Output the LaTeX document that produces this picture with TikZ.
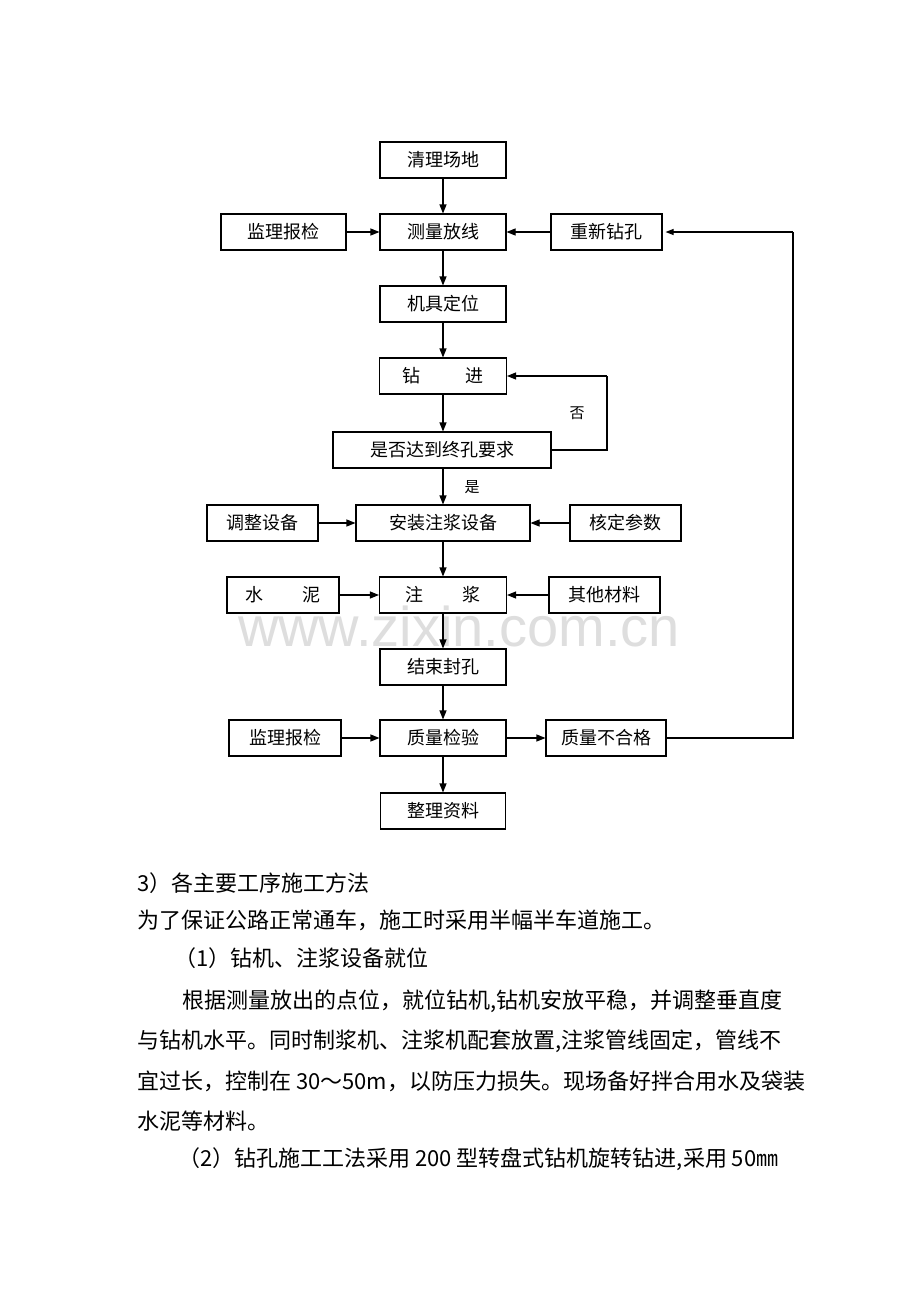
\documentclass[tikz,border=0pt]{standalone}
\usepackage{fontspec}
\setmainfont{Noto Sans CJK SC}
\newfontfamily\wmfont{Liberation Sans}
\usetikzlibrary{arrows.meta}
\begin{document}
\begin{tikzpicture}[x=1pt,y=-1pt,
  stepbox/.style={draw, line width=1.1pt, minimum height=36pt, inner sep=0pt, font=\fontsize{18}{18}\selectfont},
  conn/.style={line width=1.1pt, -{Triangle[length=9pt,width=7pt]}},
  lbl/.style={font=\fontsize{15}{15}\selectfont, inner sep=0pt},
  body/.style={anchor=base west, inner sep=0pt, font=\fontsize{22}{22}\selectfont}]
\useasboundingbox[fill=white] (0,0) rectangle (920,1302);
% watermark
\node[font=\wmfont\fontsize{56}{56}\selectfont, text=black!13, inner sep=0pt, anchor=base] (wm) at (459,646) {www.zixin.com.cn};
% nodes
\node[stepbox, minimum width=126pt] (a) at (443,160) {清理场地};
\node[stepbox, minimum width=126pt] (b) at (443,232) {测量放线};
\node[stepbox, minimum width=125pt] (c) at (283.5,232) {监理报检};
\node[stepbox, minimum width=111pt] (d) at (606.5,232) {重新钻孔};
\node[stepbox, minimum width=126pt] (e) at (443,304) {机具定位};
\node[stepbox, minimum width=127pt] (f) at (443,376) {钻\hspace{2.5em}进};
\node[stepbox, minimum width=218pt] (g) at (442,450) {是否达到终孔要求};
\node[stepbox, minimum width=174pt] (h) at (443,523) {安装注浆设备};
\node[stepbox, minimum width=111pt] (i) at (262.5,523) {调整设备};
\node[stepbox, minimum width=111pt] (j) at (625.5,523) {核定参数};
\node[stepbox, minimum width=127pt] (k) at (443,595) {注\hspace{2.2em}浆};
\node[stepbox, minimum width=112pt] (l) at (283,595) {水\hspace{2.2em}泥};
\node[stepbox, minimum width=111pt] (m) at (604.5,595) {其他材料};
\node[stepbox, minimum width=126pt] (n) at (443,667) {结束封孔};
\node[stepbox, minimum width=112pt] (o) at (285,738) {监理报检};
\node[stepbox, minimum width=126pt] (p) at (443,738) {质量检验};
\node[stepbox, minimum width=120pt] (q) at (606,738) {质量不合格};
\node[stepbox, minimum width=125pt] (r) at (443,811) {整理资料};
\node[lbl] (yes) at (472,487) {是};
\node[lbl] (no) at (577,413) {否};
\coordinate (g1) at (607,450);
\coordinate (g2) at (607,376);
\coordinate (q1) at (793,738);
\coordinate (q2) at (793,232);
% connectors
\draw[conn] (a) -- (b);
\draw[conn] (c) -- (b);
\draw[conn] (d) -- (b);
\draw[conn] (b) -- (e);
\draw[conn] (e) -- (f);
\draw[conn] (f) -- (g.north -| f);
\draw[conn] (g.south -| h) -- (h);
\draw[line width=1.1pt] (g.east |- g1) -- (g1) -- (g2);
\draw[conn] (g2) -- (f.east);
\draw[conn] (i) -- (h);
\draw[conn] (j) -- (h);
\draw[conn] (h) -- (k);
\draw[conn] (l) -- (k);
\draw[conn] (m) -- (k);
\draw[conn] (k) -- (n);
\draw[conn] (n) -- (p);
\draw[conn] (o) -- (p);
\draw[conn] (p) -- (q);
\draw[conn] (p) -- (r);
\draw[line width=1.1pt] (q.east) -- (q1) -- (q2);
\draw[line width=1.1pt, -{Triangle[length=8pt,width=6pt]}] (q2) -- ([xshift=3pt]d.east);
% body text
\node[body] (t1) at (137,891) {3）各主要工序施工方法};
\node[body] (t2) at (137,928) {为了保证公路正常通车，施工时采用半幅半车道施工。};
\node[body] (t3) at (174,966) {（1）钻机、注浆设备就位};
\node[body] (t4) at (182,1008) {根据测量放出的点位，就位钻机,钻机安放平稳，并调整垂直度};
\node[body] (t5) at (137,1048) {与钻机水平。同时制浆机、注浆机配套放置,注浆管线固定，管线不};
\node[body] (t6) at (137,1089) {宜过长，控制在 30～50m，以防压力损失。现场备好拌合用水及袋装};
\node[body] (t7) at (137,1129) {水泥等材料。};
\node[body] (t8) at (178,1166) {（2）钻孔施工工法采用 200 型转盘式钻机旋转钻进,采用 50㎜};
\end{tikzpicture}
\end{document}
